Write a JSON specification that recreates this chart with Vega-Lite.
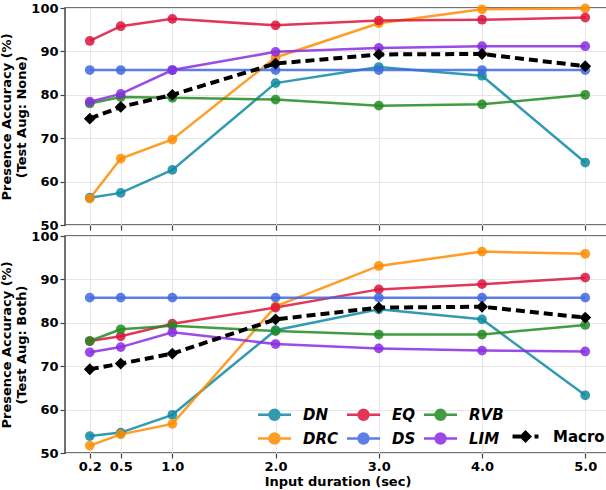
{
  "$schema": "https://vega.github.io/schema/vega-lite/v6.json",
  "padding": {"left": 0, "top": 1, "right": 0, "bottom": 0},
  "bounds": "flush",
  "spacing": 11,
  "config": {
    "font": "DejaVu Sans",
    "view": {"stroke": "#444", "strokeWidth": 1.5},
    "axis": {
      "labelFont": "DejaVu Sans", "labelFontSize": 13, "labelFontWeight": "bold", "labelColor": "black",
      "titleFont": "DejaVu Sans", "titleFontSize": 13, "titleFontWeight": "bold", "titleColor": "black",
      "gridColor": "#e6e6e6", "gridWidth": 1, "domain": false,
      "tickColor": "#444", "tickSize": 5, "tickWidth": 1.2, "labelPadding": 2
    },
    "legend": {
      "labelFont": "DejaVu Sans", "labelFontSize": 15, "labelFontWeight": "bold", "labelColor": "black", "title": null
    }
  },
  "datasets": {
    "all": [
      {"p":"None","s":"DN","d":0.2,"a":56.3},{"p":"None","s":"DN","d":0.5,"a":57.4},{"p":"None","s":"DN","d":1.0,"a":62.7},{"p":"None","s":"DN","d":2.0,"a":82.7},{"p":"None","s":"DN","d":3.0,"a":86.4},{"p":"None","s":"DN","d":4.0,"a":84.4},{"p":"None","s":"DN","d":5.0,"a":64.4},
      {"p":"None","s":"DRC","d":0.2,"a":56.1},{"p":"None","s":"DRC","d":0.5,"a":65.3},{"p":"None","s":"DRC","d":1.0,"a":69.7},{"p":"None","s":"DRC","d":2.0,"a":88.6},{"p":"None","s":"DRC","d":3.0,"a":96.5},{"p":"None","s":"DRC","d":4.0,"a":99.7},{"p":"None","s":"DRC","d":5.0,"a":99.9},
      {"p":"None","s":"EQ","d":0.2,"a":92.4},{"p":"None","s":"EQ","d":0.5,"a":95.8},{"p":"None","s":"EQ","d":1.0,"a":97.5},{"p":"None","s":"EQ","d":2.0,"a":96.0},{"p":"None","s":"EQ","d":3.0,"a":97.1},{"p":"None","s":"EQ","d":4.0,"a":97.3},{"p":"None","s":"EQ","d":5.0,"a":97.8},
      {"p":"None","s":"DS","d":0.2,"a":85.7},{"p":"None","s":"DS","d":0.5,"a":85.7},{"p":"None","s":"DS","d":1.0,"a":85.7},{"p":"None","s":"DS","d":2.0,"a":85.7},{"p":"None","s":"DS","d":3.0,"a":85.7},{"p":"None","s":"DS","d":4.0,"a":85.7},{"p":"None","s":"DS","d":5.0,"a":85.7},
      {"p":"None","s":"RVB","d":0.2,"a":78.0},{"p":"None","s":"RVB","d":0.5,"a":79.5},{"p":"None","s":"RVB","d":1.0,"a":79.3},{"p":"None","s":"RVB","d":2.0,"a":78.9},{"p":"None","s":"RVB","d":3.0,"a":77.5},{"p":"None","s":"RVB","d":4.0,"a":77.8},{"p":"None","s":"RVB","d":5.0,"a":80.0},
      {"p":"None","s":"LIM","d":0.2,"a":78.4},{"p":"None","s":"LIM","d":0.5,"a":80.2},{"p":"None","s":"LIM","d":1.0,"a":85.7},{"p":"None","s":"LIM","d":2.0,"a":89.9},{"p":"None","s":"LIM","d":3.0,"a":90.8},{"p":"None","s":"LIM","d":4.0,"a":91.2},{"p":"None","s":"LIM","d":5.0,"a":91.2},
      {"p":"None","s":"Macro","d":0.2,"a":74.5},{"p":"None","s":"Macro","d":0.5,"a":77.2},{"p":"None","s":"Macro","d":1.0,"a":80.0},{"p":"None","s":"Macro","d":2.0,"a":87.2},{"p":"None","s":"Macro","d":3.0,"a":89.3},{"p":"None","s":"Macro","d":4.0,"a":89.4},{"p":"None","s":"Macro","d":5.0,"a":86.6},
      {"p":"Both","s":"DN","d":0.2,"a":53.9},{"p":"Both","s":"DN","d":0.5,"a":54.7},{"p":"Both","s":"DN","d":1.0,"a":58.8},{"p":"Both","s":"DN","d":2.0,"a":78.3},{"p":"Both","s":"DN","d":3.0,"a":83.1},{"p":"Both","s":"DN","d":4.0,"a":80.8},{"p":"Both","s":"DN","d":5.0,"a":63.3},
      {"p":"Both","s":"DRC","d":0.2,"a":51.7},{"p":"Both","s":"DRC","d":0.5,"a":54.3},{"p":"Both","s":"DRC","d":1.0,"a":56.7},{"p":"Both","s":"DRC","d":2.0,"a":83.8},{"p":"Both","s":"DRC","d":3.0,"a":93.1},{"p":"Both","s":"DRC","d":4.0,"a":96.4},{"p":"Both","s":"DRC","d":5.0,"a":95.9},
      {"p":"Both","s":"EQ","d":0.2,"a":75.8},{"p":"Both","s":"EQ","d":0.5,"a":76.9},{"p":"Both","s":"EQ","d":1.0,"a":79.8},{"p":"Both","s":"EQ","d":2.0,"a":83.5},{"p":"Both","s":"EQ","d":3.0,"a":87.7},{"p":"Both","s":"EQ","d":4.0,"a":88.9},{"p":"Both","s":"EQ","d":5.0,"a":90.4},
      {"p":"Both","s":"DS","d":0.2,"a":85.8},{"p":"Both","s":"DS","d":0.5,"a":85.8},{"p":"Both","s":"DS","d":1.0,"a":85.8},{"p":"Both","s":"DS","d":2.0,"a":85.8},{"p":"Both","s":"DS","d":3.0,"a":85.8},{"p":"Both","s":"DS","d":4.0,"a":85.8},{"p":"Both","s":"DS","d":5.0,"a":85.8},
      {"p":"Both","s":"RVB","d":0.2,"a":75.8},{"p":"Both","s":"RVB","d":0.5,"a":78.5},{"p":"Both","s":"RVB","d":1.0,"a":79.3},{"p":"Both","s":"RVB","d":2.0,"a":78.1},{"p":"Both","s":"RVB","d":3.0,"a":77.3},{"p":"Both","s":"RVB","d":4.0,"a":77.3},{"p":"Both","s":"RVB","d":5.0,"a":79.5},
      {"p":"Both","s":"LIM","d":0.2,"a":73.2},{"p":"Both","s":"LIM","d":0.5,"a":74.4},{"p":"Both","s":"LIM","d":1.0,"a":77.8},{"p":"Both","s":"LIM","d":2.0,"a":75.1},{"p":"Both","s":"LIM","d":3.0,"a":74.1},{"p":"Both","s":"LIM","d":4.0,"a":73.6},{"p":"Both","s":"LIM","d":5.0,"a":73.4},
      {"p":"Both","s":"Macro","d":0.2,"a":69.3},{"p":"Both","s":"Macro","d":0.5,"a":70.6},{"p":"Both","s":"Macro","d":1.0,"a":72.9},{"p":"Both","s":"Macro","d":2.0,"a":80.8},{"p":"Both","s":"Macro","d":3.0,"a":83.5},{"p":"Both","s":"Macro","d":4.0,"a":83.7},{"p":"Both","s":"Macro","d":5.0,"a":81.2}
    ]
  },
  "vconcat": [
    {
      "width": 545, "height": 217,
      "data": {"name": "all"},
      "transform": [{"filter": "datum.p === 'None'"}],
      "encoding": {
        "x": {"field": "d", "type": "quantitative", "scale": {"domain": [-0.04, 5.24], "nice": false, "zero": false},
              "axis": {"values": [0.2, 0.5, 1, 2, 3, 4, 5], "labels": false, "title": null, "minExtent": 0}},
        "y": {"field": "a", "type": "quantitative", "scale": {"domain": [50, 100], "nice": false, "zero": false},
              "axis": {"values": [50, 60, 70, 80, 90, 100], "title": ["Presence Accuracy (%)", "(Test Aug: None)"], "titlePadding": 2}}
      },
      "layer": [
        {"transform": [{"filter": "datum.s !== 'Macro'"}], "mark": {"type": "line", "strokeWidth": 2.5, "opacity": 0.85},
         "encoding": {"color": {"field": "s", "type": "nominal", "scale": {"domain": ["DN","DRC","EQ","DS","RVB","LIM"], "range": ["#0f8aa3","#ff8c00","#dc143c","#4169e1","#228b22","#8a2be2"]},
           "legend": {"orient": "none", "legendX": 202, "legendY": 399, "columns": 3, "labelFontStyle": "italic", "gridAlign": "each",
             "symbolType": "M-3,0H3M-0.9,0A0.9,0.9,0,1,1,0.9,0A0.9,0.9,0,1,1,-0.9,0Z", "symbolSize": 121, "symbolStrokeWidth": 2.5, "symbolOpacity": 0.85,
             "rowPadding": 3, "columnPadding": 3, "labelOffset": 21,
             "encode": {"symbols": {"update": {"fill": {"scale": "color", "field": "value"}, "stroke": {"scale": "color", "field": "value"}}}}}}}},
        {"transform": [{"filter": "datum.s !== 'Macro'"}], "mark": {"type": "point", "filled": true, "size": 95, "opacity": 0.85},
         "encoding": {"color": {"field": "s", "type": "nominal"}}},
        {"transform": [{"filter": "datum.s === 'Macro'"}], "mark": {"type": "line", "color": "black", "strokeWidth": 4, "strokeDash": [9, 5]}, "encoding": {}},
        {"transform": [{"filter": "datum.s === 'Macro'"}], "mark": {"type": "point", "filled": true, "color": "black", "size": 140, "shape": "diamond"},
         "encoding": {"opacity": {"field": "s", "type": "nominal", "scale": {"domain": ["Macro"], "range": [1]},
           "legend": {"orient": "none", "legendX": 453, "legendY": 421, "symbolSize": 121, "labelOffset": 20,
             "symbolType": "M-2.36,-0.36H-0.9V0.36H-2.36Z M0,-1.18L1.18,0L0,1.18L-1.18,0Z M1.64,-0.36H2.36V0.36H1.64Z",
             "symbolFillColor": "black", "symbolStrokeColor": "black", "symbolStrokeWidth": 0}}}}
      ]
    },
    {
      "width": 545, "height": 217,
      "data": {"name": "all"},
      "transform": [{"filter": "datum.p === 'Both'"}],
      "encoding": {
        "x": {"field": "d", "type": "quantitative", "scale": {"domain": [-0.04, 5.24], "nice": false, "zero": false},
              "axis": {"values": [0.2, 0.5, 1, 2, 3, 4, 5], "format": ".1f", "title": "Input duration (sec)", "titlePadding": 2}},
        "y": {"field": "a", "type": "quantitative", "scale": {"domain": [50, 100], "nice": false, "zero": false},
              "axis": {"values": [50, 60, 70, 80, 90, 100], "title": ["Presence Accuracy (%)", "(Test Aug: Both)"], "titlePadding": 2}}
      },
      "layer": [
        {"transform": [{"filter": "datum.s !== 'Macro'"}], "mark": {"type": "line", "strokeWidth": 2.5, "opacity": 0.85},
         "encoding": {"color": {"field": "s", "type": "nominal", "scale": {"domain": ["DN","DRC","EQ","DS","RVB","LIM"], "range": ["#0f8aa3","#ff8c00","#dc143c","#4169e1","#228b22","#8a2be2"]},
           "legend": {"orient": "none", "legendX": 202, "legendY": 399, "columns": 3, "labelFontStyle": "italic", "gridAlign": "each",
             "symbolType": "M-3,0H3M-0.9,0A0.9,0.9,0,1,1,0.9,0A0.9,0.9,0,1,1,-0.9,0Z", "symbolSize": 121, "symbolStrokeWidth": 2.5, "symbolOpacity": 0.85,
             "rowPadding": 3, "columnPadding": 3, "labelOffset": 21,
             "encode": {"symbols": {"update": {"fill": {"scale": "color", "field": "value"}, "stroke": {"scale": "color", "field": "value"}}}}}}}},
        {"transform": [{"filter": "datum.s !== 'Macro'"}], "mark": {"type": "point", "filled": true, "size": 95, "opacity": 0.85},
         "encoding": {"color": {"field": "s", "type": "nominal"}}},
        {"transform": [{"filter": "datum.s === 'Macro'"}], "mark": {"type": "line", "color": "black", "strokeWidth": 4, "strokeDash": [9, 5]}, "encoding": {}},
        {"transform": [{"filter": "datum.s === 'Macro'"}], "mark": {"type": "point", "filled": true, "color": "black", "size": 140, "shape": "diamond"},
         "encoding": {"opacity": {"field": "s", "type": "nominal", "scale": {"domain": ["Macro"], "range": [1]},
           "legend": {"orient": "none", "legendX": 453, "legendY": 421, "symbolSize": 121, "labelOffset": 20,
             "symbolType": "M-2.36,-0.36H-0.9V0.36H-2.36Z M0,-1.18L1.18,0L0,1.18L-1.18,0Z M1.64,-0.36H2.36V0.36H1.64Z",
             "symbolFillColor": "black", "symbolStrokeColor": "black", "symbolStrokeWidth": 0}}}}
      ]
    }
  ]
}
